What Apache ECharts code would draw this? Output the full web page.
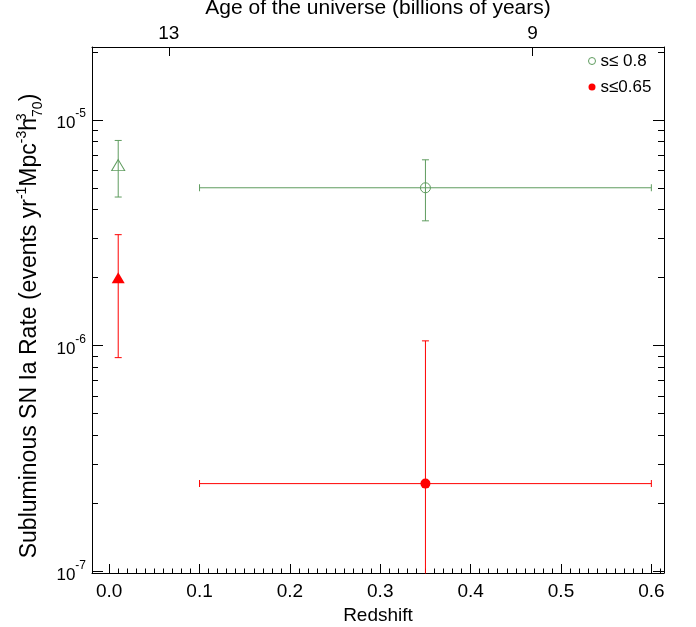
<!DOCTYPE html>
<html>
<head>
<meta charset="utf-8">
<script src="https://cdn.jsdelivr.net/npm/echarts@6/dist/echarts.min.js"></script>
<style>
html,body{margin:0;padding:0;background:#fff;}
#chart{width:696px;height:627px;}
</style>
</head>
<body>
<div id="chart"></div>
<script>
// ---- data ----
const seriesNames = ['s\u2264 0.8', 's\u22640.65'];
const seriesColors = ['#5f9c5f', '#ff0000'];

// local (z ~ 0) rates, drawn as triangles
const localRedshift = [0.01, 0.01];
const localRate = [6.3e-6, 2.0e-6];
const localRateLow = [4.55e-6, 0.885e-6];
const localRateHigh = [8.1e-6, 3.1e-6];

// z ~ 0.35 rates, drawn as circles
const snRedshift = [0.35, 0.35];
const snRedshiftLow = [0.1, 0.1];
const snRedshiftHigh = [0.6, 0.6];
const snRate = [5.0e-6, 2.45e-7];
const snRateLow = [3.57e-6, 5e-8];
const snRateHigh = [6.65e-6, 1.05e-6];

// axis ticks
const xTickValues = [0, 0.1, 0.2, 0.3, 0.4, 0.5, 0.6];
const xTickLabels = ['0.0', '0.1', '0.2', '0.3', '0.4', '0.5', '0.6'];
const ageTickRedshift = [0.066, 0.4686];
const ageTickLabels = ['13', '9'];
const yTickValues = [1e-7, 1e-6, 1e-5];
const yTickExponents = ['-7', '-6', '-5'];

// ---- axis ranges ----
const X_MIN = -0.019, X_MAX = 0.614;
const Y_MIN = 9.85e-8, Y_MAX = 2.1e-5;

const xMinorValues = [];
for (let i = 0; i <= 61; i++) { if (i % 10 !== 0) xMinorValues.push(i / 100); }
const yMinorValues = [];
[-7, -6, -5].forEach(function (d) {
  for (let m = 2; m <= 9; m++) {
    const v = m * Math.pow(10, d);
    if (v >= Y_MIN && v <= Y_MAX) yMinorValues.push(v);
  }
});

const FONT = 'Liberation Sans, Arial, Helvetica, sans-serif';
const black = '#000';

// error bars as two-point line series; the end symbols are the caps
function barSeries(name, color, pts, capSize) {
  return {
    name: name, type: 'line', clip: true, z: 3,
    data: pts,
    showSymbol: true, symbol: 'rect', symbolSize: capSize,
    itemStyle: { color: color, borderWidth: 0 },
    lineStyle: { color: color, width: 1 },
    emphasis: { disabled: true }, silent: true
  };
}

const series = [];
for (let i = 0; i < 2; i++) {
  series.push(barSeries('vbar local ' + i, seriesColors[i],
    [[localRedshift[i], localRateLow[i]], [localRedshift[i], localRateHigh[i]]], [7, 1]));
  series.push(barSeries('vbar sn ' + i, seriesColors[i],
    [[snRedshift[i], snRateLow[i]], [snRedshift[i], snRateHigh[i]]], [7, 1]));
  series.push(barSeries('hbar sn ' + i, seriesColors[i],
    [[snRedshiftLow[i], snRate[i]], [snRedshiftHigh[i], snRate[i]]], [1, 7]));
}
// markers
series.push({
  name: 'local ' + seriesNames[0], type: 'scatter', z: 5, symbol: 'triangle', symbolSize: [13, 11],
  itemStyle: { color: 'rgba(0,0,0,0)', borderColor: seriesColors[0], borderWidth: 1, opacity: 1 },
  data: [[localRedshift[0], localRate[0]]]
});
series.push({
  name: 'local ' + seriesNames[1], type: 'scatter', z: 5, symbol: 'triangle', symbolSize: [13, 11],
  itemStyle: { color: seriesColors[1], opacity: 1 },
  data: [[localRedshift[1], localRate[1]]]
});
series.push({
  name: seriesNames[0], type: 'scatter', z: 5, symbol: 'circle', symbolSize: 10,
  itemStyle: { color: 'rgba(0,0,0,0)', borderColor: seriesColors[0], borderWidth: 1, opacity: 1 },
  data: [[snRedshift[0], snRate[0]]]
});
series.push({
  name: seriesNames[1], type: 'scatter', z: 5, symbol: 'circle', symbolSize: 10,
  itemStyle: { color: seriesColors[1], opacity: 1 },
  data: [[snRedshift[1], snRate[1]]]
});

function xAxisBase(extra) {
  return Object.assign({
    type: 'value', min: X_MIN, max: X_MAX, gridIndex: 0,
    splitLine: { show: false }, minorTick: { show: false },
    axisLine: { show: false, onZero: false, lineStyle: { color: black, width: 1 } }
  }, extra);
}
function yAxisBase(extra) {
  return Object.assign({
    type: 'log', logBase: 10, min: Y_MIN, max: Y_MAX, gridIndex: 0,
    splitLine: { show: false }, minorTick: { show: false },
    axisLine: { show: false, onZero: false, lineStyle: { color: black, width: 1 } }
  }, extra);
}

const option = {
  animation: false,
  backgroundColor: '#fff',
  textStyle: { fontFamily: FONT },
  grid: { left: 92, right: 32, top: 47, bottom: 54, containLabel: false, outerBoundsMode: 'none' },
  legend: {
    orient: 'vertical', left: 588, top: 52, padding: 0, itemGap: 8,
    itemWidth: 7, itemHeight: 7,
    textStyle: { fontSize: 17, color: black, fontFamily: FONT, lineHeight: 18 },
    data: [
      { name: seriesNames[0], icon: 'circle', itemStyle: { color: '#fff', borderColor: seriesColors[0], borderWidth: 1 } },
      { name: seriesNames[1], icon: 'circle', itemStyle: { color: seriesColors[1] } }
    ],
    selectedMode: false
  },
  xAxis: [
    xAxisBase({
      position: 'bottom',
      axisLine: { show: true, onZero: false, lineStyle: { color: black, width: 1 } },
      axisTick: { show: true, inside: true, length: 9, lineStyle: { color: black }, customValues: xTickValues },
      axisLabel: {
        show: true, customValues: xTickValues, margin: 9, fontSize: 19, color: black, fontFamily: FONT,
        formatter: function (v) {
          for (let i = 0; i < xTickValues.length; i++) if (Math.abs(v - xTickValues[i]) < 1e-9) return xTickLabels[i];
          return '';
        }
      },
      name: 'Redshift', nameLocation: 'middle', nameGap: 24,
      nameTextStyle: { fontSize: 19, color: black, fontFamily: FONT }
    }),
    xAxisBase({
      position: 'bottom',
      axisTick: { show: true, inside: true, length: 4.5, lineStyle: { color: black }, customValues: xMinorValues },
      axisLabel: { show: false }
    }),
    xAxisBase({
      position: 'top',
      axisLine: { show: true, onZero: false, lineStyle: { color: black, width: 1 } },
      axisTick: { show: true, inside: true, length: 9, lineStyle: { color: black }, customValues: ageTickRedshift },
      axisLabel: {
        show: true, customValues: ageTickRedshift, margin: 4, fontSize: 19, color: black, fontFamily: FONT,
        formatter: function (v) {
          for (let i = 0; i < ageTickRedshift.length; i++) if (Math.abs(v - ageTickRedshift[i]) < 1e-9) return ageTickLabels[i];
          return '';
        }
      },
      name: 'Age of the universe (billions of years)', nameLocation: 'middle', nameGap: 13,
      nameTextStyle: { fontSize: 21, color: black, fontFamily: FONT, verticalAlign: 'bottom' }
    })
  ],
  yAxis: [
    yAxisBase({
      position: 'left',
      axisLine: { show: true, onZero: false, lineStyle: { color: black, width: 1 } },
      axisTick: { show: true, inside: true, length: 11, lineStyle: { color: black }, customValues: yTickValues },
      axisLabel: {
        show: true, customValues: yTickValues, margin: 6, color: black, fontFamily: FONT,
        formatter: function (v) {
          let idx = 0, best = 1e9;
          for (let i = 0; i < yTickValues.length; i++) {
            const d = Math.abs(Math.log10(v) - Math.log10(yTickValues[i]));
            if (d < best) { best = d; idx = i; }
          }
          return '{b|10}{s|' + yTickExponents[idx] + '}';
        },
        rich: {
          b: { fontSize: 17, fontFamily: FONT, color: black, lineHeight: 24, verticalAlign: 'bottom' },
          s: { fontSize: 12, fontFamily: FONT, color: black, lineHeight: 14, verticalAlign: 'top' }
        }
      },
      name: '{a|Subluminous SN Ia Rate (events yr}{u|-1}{a|Mpc}{u|-3}{a|h}{w|3}{d|70}{a|)}',
      nameLocation: 'middle', nameGap: 47,
      nameTextStyle: {
        fontFamily: FONT, color: black, padding: [0, 32, 0, 0],
        rich: {
          a: { fontSize: 23, fontFamily: FONT, color: black, lineHeight: 30, verticalAlign: 'middle' },
          u: { fontSize: 14, fontFamily: FONT, color: black, lineHeight: 13, verticalAlign: 'top' },
          w: { fontSize: 14, fontFamily: FONT, color: black, lineHeight: 13, verticalAlign: 'top', width: 1 },
          d: { fontSize: 14, fontFamily: FONT, color: black, lineHeight: 13, verticalAlign: 'bottom' }
        }
      }
    }),
    yAxisBase({
      position: 'left',
      axisTick: { show: true, inside: true, length: 6, lineStyle: { color: black }, customValues: yMinorValues },
      axisLabel: { show: false }
    }),
    yAxisBase({
      position: 'right',
      axisLine: { show: true, onZero: false, lineStyle: { color: black, width: 1 } },
      axisTick: { show: true, inside: true, length: 11, lineStyle: { color: black }, customValues: yTickValues },
      axisLabel: { show: false }
    }),
    yAxisBase({
      position: 'right',
      axisTick: { show: true, inside: true, length: 6, lineStyle: { color: black }, customValues: yMinorValues },
      axisLabel: { show: false }
    })
  ],
  series: series
};

const chart = echarts.init(document.getElementById('chart'), null, { renderer: 'canvas' });
chart.setOption(option);
</script>
</body>
</html>
